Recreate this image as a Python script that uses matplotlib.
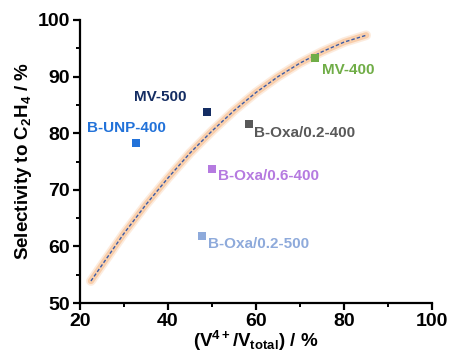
import matplotlib.pyplot as plt
from matplotlib.ticker import MultipleLocator

plt.rcParams['font.family'] = ['Liberation Sans', 'DejaVu Sans']
plt.rcParams['font.weight'] = 'bold'
plt.rcParams['mathtext.fontset'] = 'custom'
plt.rcParams['mathtext.rm'] = 'Liberation Sans:bold'
plt.rcParams['mathtext.it'] = 'Liberation Sans:bold'
plt.rcParams['mathtext.bf'] = 'Liberation Sans:bold'

# Sample points: V4+ fraction (%) vs C2H4 selectivity (%)
samples = ['MV-500', 'B-UNP-400', 'B-Oxa/0.2-400', 'MV-400', 'B-Oxa/0.6-400', 'B-Oxa/0.2-500']
v4_frac = [48.9, 32.7, 58.4, 73.4, 50.0, 47.7]
selectivity = [83.7, 78.3, 81.6, 93.3, 73.7, 61.8]
sample_colors = ['#142d63', '#2272d9', '#595959', '#70ad47', '#b57ae0', '#8eaadb']

# Trend curve
trend_x = [22.5, 30, 35, 40, 45, 50, 55, 60, 65, 70, 75, 80, 85]
trend_y = [53.9, 62.3, 67.4, 72.1, 76.5, 80.4, 84.0, 87.2, 90.0, 92.4, 94.4, 96.1, 97.3]

# label offsets in points (text left edge / vertical centre relative to marker)
label_offsets = {
    'MV-500': (-53, 11),
    'B-UNP-400': (-35, 11),
    'B-Oxa/0.2-400': (3.5, -6.5),
    'MV-400': (5, -8.5),
    'B-Oxa/0.6-400': (4.3, -5),
    'B-Oxa/0.2-500': (4.3, -5.8),
}

fig = plt.figure(figsize=(4.54, 3.57), dpi=100)
ax = fig.add_axes([0.176, 0.151, 0.776, 0.793])

# orange glow under the dashed trend line
ax.plot(trend_x, trend_y, color='#f7b27a', lw=7, alpha=0.25, solid_capstyle='round', zorder=1)
ax.plot(trend_x, trend_y, color='#f7a96a', lw=4.5, alpha=0.45, solid_capstyle='round', zorder=1)
ax.plot(trend_x, trend_y, color='#fbd2b0', lw=2.5, alpha=0.8, solid_capstyle='round', zorder=1)
ax.plot(trend_x, trend_y, color='#3b5ba5', lw=1.0, dashes=(2.5, 1.5), zorder=2)

for name, x, y, c in zip(samples, v4_frac, selectivity, sample_colors):
    ax.scatter(x, y, marker='s', s=40, color=c, zorder=3, linewidths=0)
    ax.annotate(name, (x, y), xytext=label_offsets[name], textcoords='offset points',
                ha='left', va='center', color=c, fontsize=11, fontweight='bold')

ax.set_xlim(20, 100)
ax.set_ylim(50, 100)
ax.xaxis.set_major_locator(MultipleLocator(20))
ax.xaxis.set_minor_locator(MultipleLocator(10))
ax.yaxis.set_major_locator(MultipleLocator(10))
ax.yaxis.set_minor_locator(MultipleLocator(5))

for side in ['top', 'right']:
    ax.spines[side].set_visible(False)
for side in ['left', 'bottom']:
    ax.spines[side].set_linewidth(1.6)

ax.tick_params(which='major', direction='out', length=5, width=1.6, labelsize=14, pad=2)
ax.tick_params(which='minor', direction='out', length=3, width=1.4)
for lab in ax.get_xticklabels() + ax.get_yticklabels():
    lab.set_fontweight('bold')

ax.set_xlabel(r'(V$^{4+}$/V$_{total}$) / %', fontsize=13.5, fontweight='bold', labelpad=-1)
ax.set_ylabel(r'Selectivity to C$_{2}$H$_{4}$ / %', fontsize=13.5, fontweight='bold', labelpad=3)

fig.savefig('out.png', dpi=100)
